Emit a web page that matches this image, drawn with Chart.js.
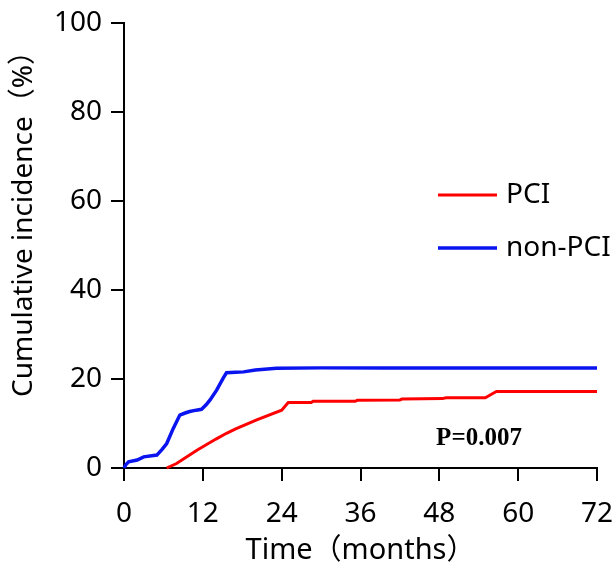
<!DOCTYPE html>
<html>
<head>
<meta charset="utf-8">
<script src="https://cdn.jsdelivr.net/npm/chart.js@4"></script>
<style>
	html, body { margin: 0; padding: 0; background: #fff; }
</style>
</head>
<body>
<canvas id="chart" width="615" height="573"></canvas>
<script>
/* data (months, %) */
const pciTime = [6.5, 8, 11.1, 14, 15.6, 17, 20.2, 24.0, 25.0, 28.5, 28.8, 35.2, 35.5, 42, 42.3, 48.5, 49, 55, 56.2, 56.7, 72];
const pciValue = [0, 1.0, 4.0, 6.5, 7.8, 8.8, 10.8, 13.0, 14.7, 14.7, 15.0, 15.0, 15.2, 15.3, 15.5, 15.6, 15.8, 15.8, 16.8, 17.2, 17.2];
const nonPciTime = [0, 0.3, 0.7, 2, 3, 5, 5.8, 6.5, 7.5, 8.5, 9.2, 10, 11, 11.8, 12.5, 13.1, 14.1, 15.1, 15.6, 17, 18.2, 20, 23.2, 30, 40, 50, 60, 72];
const nonPciValue = [0, 0.8, 1.4, 1.8, 2.5, 2.9, 4.2, 5.5, 8.9, 11.9, 12.3, 12.7, 13.0, 13.2, 14.2, 15.3, 17.5, 20.2, 21.4, 21.5, 21.6, 22.0, 22.4, 22.5, 22.5, 22.5, 22.5, 22.5];
const seriesNames = ["PCI", "non-PCI"];
const xTicks = [0, 12, 24, 36, 48, 60, 72];
const yTicks = [0, 20, 40, 60, 80, 100];
const xTitle = "Time（months）";
const yTitle = "Cumulative incidence（%）";
const pText = "P=0.007";

const FONT = "'Noto Sans', 'Noto Sans CJK SC', sans-serif";

function toPoints(xs, ys) {
	return xs.map((x, i) => ({ x: x, y: ys[i] }));
}

/*legend, y title and p value drawn over the plot*/
const annotations = {
	id: "annotations",
	afterDraw(chart) {
		const ctx = chart.ctx;
		ctx.save();
		chart.data.datasets.forEach((ds, i) => {
			const y = 195 + i * 53;
			ctx.strokeStyle = ds.borderColor;
			ctx.lineWidth = ds.borderWidth;
			ctx.beginPath();
			ctx.moveTo(438, y);
			ctx.lineTo(497, y);
			ctx.stroke();
			ctx.fillStyle = "#000";
			ctx.font = `28px ${FONT}`;
			ctx.textBaseline = "middle";
			ctx.textAlign = "left";
			ctx.fillText(ds.label, 506, y);
		});
		ctx.font = "bold 25px 'Liberation Serif', serif";
		ctx.textAlign = "center";
		ctx.fillStyle = "#000";
		ctx.fillText(pText, 479, 439);

		ctx.translate(24, 217);
		ctx.rotate(-Math.PI / 2);
		ctx.font = `28px ${FONT}`;
		ctx.fillText(yTitle, 0, 0);
		ctx.restore();
	}
};

const axisGrid = {
	drawOnChartArea: false,
	drawTicks: true,
	tickLength: 13,
	color: "#000",
	lineWidth: 2
};

new Chart(document.getElementById("chart"), {
	type: "line",
	data: {
		datasets: [
			{
				label: seriesNames[0],
				data: toPoints(pciTime, pciValue),
				borderColor: "#ff0000",
				borderWidth: 3,
				pointRadius: 0,
				tension: 0,
				fill: false,
				clip: 4
			},
			{
				label: seriesNames[1],
				data: toPoints(nonPciTime, nonPciValue),
				borderColor: "#0a14ee",
				borderWidth: 3.5,
				pointRadius: 0,
				tension: 0,
				fill: false,
				clip: 4
			}
		]
	},
	options: {
		responsive: false,
		animation: false,
		layout: { padding: { top: 23, right: 18, left: 0, bottom: 0 } },
		plugins: {
			legend: { display: false },
			tooltip: { enabled: false }
		},
		scales: {
			x: {
				type: "linear",
				min: 0,
				max: 72,
				afterBuildTicks: scale => {
					scale.ticks = xTicks.map(v => ({ value: v }));
				},
				ticks: { color: "#000", font: { family: FONT, size: 28 }, padding: 16 },
				grid: axisGrid,
				border: { display: true, color: "#000", width: 2 },
				title: {
					display: true,
					text: xTitle,
					color: "#000",
					font: { family: FONT, size: 29 },
					padding: { bottom: 5 }
				},
				afterFit: scale => {
					scale.height = 105;
					scale.paddingLeft = 0;
					scale.paddingRight = 0;
				}
			},
			y: {
				min: 0,
				max: 100,
				afterBuildTicks: scale => {
					scale.ticks = yTicks.map(v => ({ value: v }));
				},
				ticks: { color: "#000", font: { family: FONT, size: 28 }, padding: 9 },
				grid: axisGrid,
				border: { display: true, color: "#000", width: 2 },
				title: { display: false },
				afterFit: scale => {
					scale.width = 124;
					scale.paddingTop = 0;
					scale.paddingBottom = 0;
				}
			}
		}
	},
	plugins: [annotations]
});
</script>
</body>
</html>
